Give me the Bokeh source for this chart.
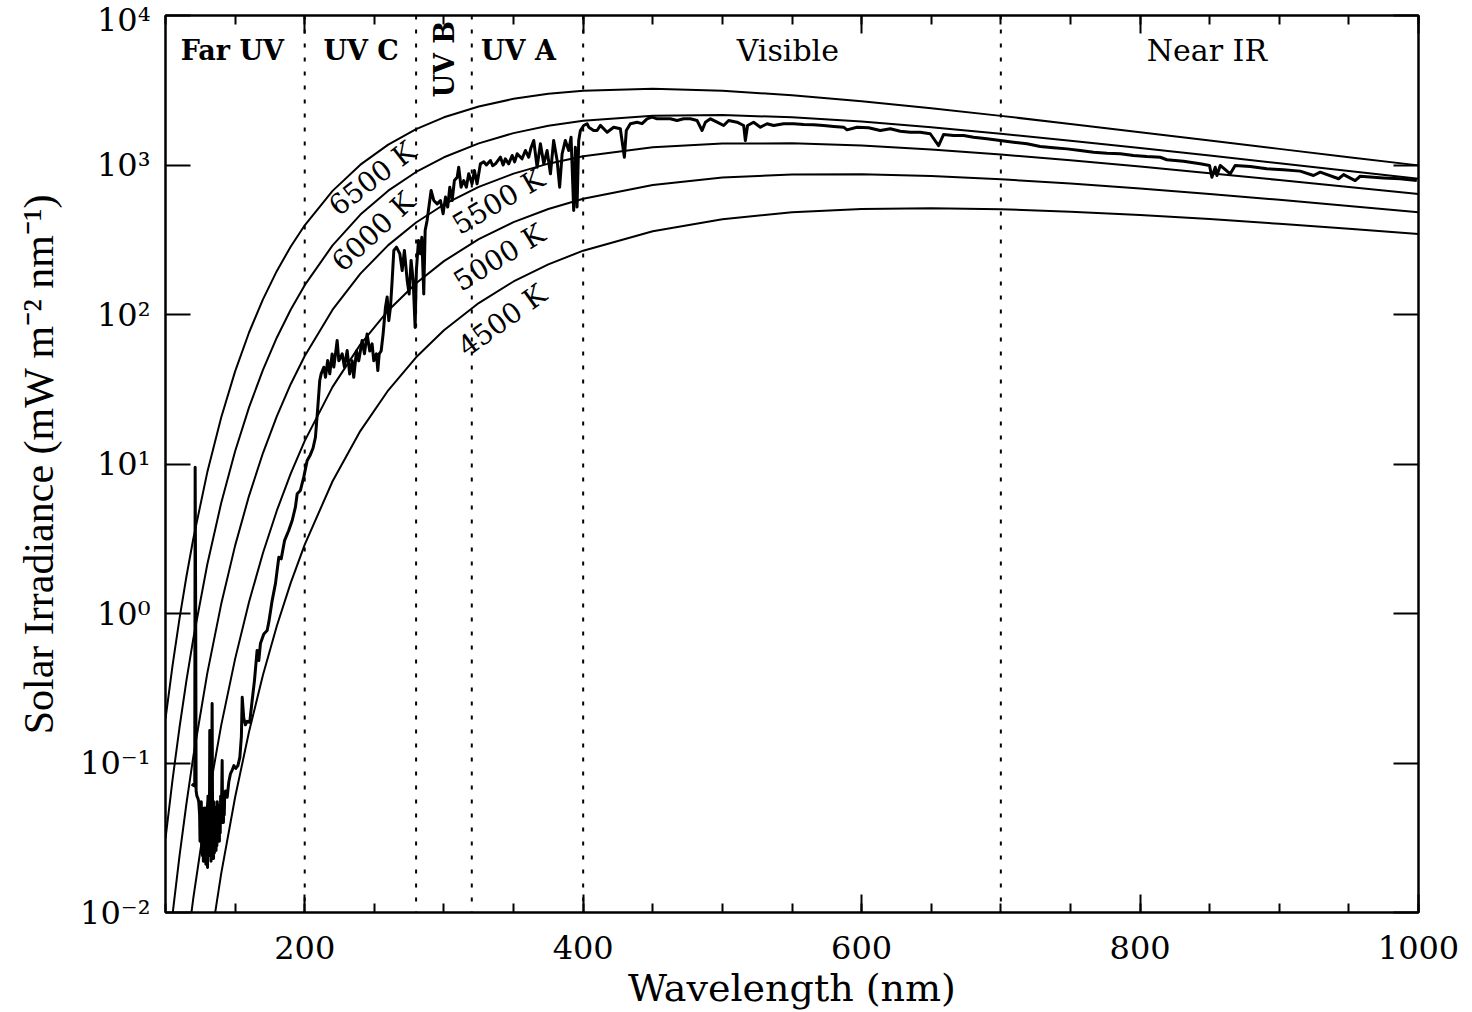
import math

from bokeh.core.properties import value
from bokeh.embed import file_html
from bokeh.models import (FixedTicker, LinearAxis, LogAxis, Range1d,
                          SingleIntervalTicker, Span)
from bokeh.plotting import figure
from bokeh.resources import INLINE

# ---------------------------------------------------------------------------
# Blackbody irradiance curves (mW m^-2 nm^-1), sampled on a common grid
# ---------------------------------------------------------------------------
bb_wavelength = [100, 105, 110, 115, 120, 130, 140, 150, 160, 170,
                 180, 190, 200, 220, 240, 260, 280, 300, 325, 350,
                 375, 400, 450, 500, 550, 600, 650, 700, 750, 800,
                 850, 900, 950, 1000]

bb_6500 = [0.1974, 0.444, 0.9171, 1.762, 3.175, 8.793, 20.48, 41.63, 75.8, 126.3,
           195.7, 285.3, 395.3, 671.2, 1005, 1369, 1736, 2084, 2465, 2770,
           2993, 3138, 3232, 3136, 2929, 2671, 2398, 2131, 1883, 1658,
           1458, 1282, 1128, 994.3]
bb_6000 = [0.03119, 0.07656, 0.1714, 0.354, 0.6823, 2.127, 5.483, 12.17, 23.92, 42.68,
           70.21, 108.0, 157.1, 290.1, 465.8, 673.3, 898.1, 1126, 1396, 1634,
           1828, 1975, 2139, 2159, 2084, 1951, 1789, 1620, 1455, 1299,
           1156, 1027, 911.6, 810.0]
bb_5500 = [0.003527, 0.009605, 0.02362, 0.05318, 0.1109, 0.3977, 1.156, 2.844, 6.126, 11.84,
           20.92, 34.30, 52.82, 107.7, 187.8, 291.1, 412.3, 544.4, 713.8, 876.0,
           1021, 1144, 1315, 1393, 1396, 1349, 1270, 1176, 1076, 976.8,
           881.7, 793.2, 712.2, 638.9]
bb_5000 = [2.578e-4, 7.953e-4, 2.19e-3, 5.467e-3, 0.01254, 0.05315, 0.1784, 0.4972, 1.194, 2.541,
           4.890, 8.656, 14.28, 32.79, 63.14, 106.4, 162.0, 227.6, 319.0, 414.7,
           508.2, 594.7, 734.5, 823.5, 864.6, 867.9, 844.6, 803.4, 752.1, 696.6,
           640.0, 584.7, 531.9, 483.1]
bb_4500 = [1.054e-5, 3.785e-5, 1.197e-4, 3.392e-4, 8.735e-4, 4.546e-3, 0.01818, 0.05902, 0.1619, 0.3875,
           0.8277, 1.608, 2.887, 7.668, 16.67, 31.12, 51.70, 78.41, 119.3, 166.3,
           216.5, 267.3, 360.8, 433.8, 482.4, 507.7, 514.0, 505.6, 487.5, 463.0,
           434.5, 404.6, 374.6, 345.1]

temperatures = [6500, 6000, 5500, 5000, 4500]
bb_curves = [bb_6500, bb_6000, bb_5500, bb_5000, bb_4500]

# ---------------------------------------------------------------------------
# Measured solar spectral irradiance (mW m^-2 nm^-1)
# ---------------------------------------------------------------------------
solar_wavelength = [
    119.0, 120.0, 121.0, 121.3, 121.7, 122.0, 122.6, 123.3, 123.9,
    124.5, 124.8, 125.1, 125.4, 125.7, 126.0, 126.3, 126.6, 126.9, 127.2,
    127.5, 127.8, 128.1, 128.4, 128.7, 129.0, 129.3, 129.6, 129.9, 130.2,
    130.5, 130.8, 131.1, 131.5, 131.8, 132.1, 132.4, 132.7, 133.0, 133.5,
    133.9, 134.2, 134.5, 134.8, 135.1, 135.4, 135.7, 136.0, 136.3, 136.6,
    136.9, 137.2, 137.5, 137.8, 138.1, 138.4, 138.7, 139.0, 139.3, 139.6,
    140.0, 140.4, 140.7, 141.0, 141.3, 141.6, 141.9, 142.2, 142.5,
    143.1, 144.3, 145.5, 146.7, 148.0, 149.1, 150.5, 152.0, 153.4, 154.5,
    155.1, 156.2, 157.4, 158.6, 160.5, 162.2, 163.9, 165.8, 167.0, 168.2,
    170.6, 173.0, 174.2, 176.6, 179.0, 181.4, 183.1, 185.5, 188.5, 191.0,
    193.3, 194.6, 196.9, 199.3, 201.7, 204.0, 206.0, 207.7, 209.4, 210.8,
    211.8, 213.7, 214.9, 216.5, 218.0, 219.7, 220.9, 223.3, 224.5, 226.9,
    228.5, 230.5, 232.3, 234.1, 235.2, 237.2, 238.8, 241.2, 242.9, 244.8,
    246.7, 248.4, 249.6, 251.5, 252.5, 253.5, 254.9, 256.3, 258.0, 259.2,
    260.4, 261.6, 262.8, 264.0, 265.9, 268.3, 270.0, 271.6, 273.6, 275.0,
    276.4, 277.9, 279.3, 280.2, 281.7, 283.1, 284.1, 285.5, 286.5, 287.9,
    289.8, 290.8, 292.7, 295.1, 297.5, 299.4, 301.1, 302.7, 304.2, 305.9,
    307.5, 309.5, 310.6, 312.3, 314.2, 316.1, 317.8, 320.2, 321.9, 323.8,
    326.2, 328.6, 330.5, 333.4, 335.0, 337.0, 340.6, 342.5, 344.1, 346.5,
    349.0, 350.8, 352.6, 356.1, 358.5, 360.9, 362.5, 364.5, 366.9, 369.3,
    371.7, 374.1, 376.5, 378.8, 381.3, 383.1, 384.9, 387.2, 389.6, 391.3,
    393.2, 394.4, 395.6, 396.8, 398.0, 400.4, 402.8, 404.0, 407.5, 410.0,
    412.4, 417.2, 421.9, 426.7, 429.6, 431.0, 433.9, 438.7, 442.3, 445.9,
    449.5, 453.1, 457.8, 462.6, 467.4, 472.2, 477.0, 481.8, 485.4, 487.8,
    491.4, 496.2, 500.9, 504.5, 510.5, 515.3, 516.5, 518.1, 522.4, 527.3,
    532.1, 536.8, 544.0, 551.2, 558.4, 565.5, 572.7, 579.9, 587.1, 589.5,
    596.7, 605.0, 613.4, 620.6, 627.8, 635.0, 642.1, 649.3, 655.3, 658.9,
    666.1, 673.2, 680.4, 690.0, 699.6, 709.1, 718.8, 728.3, 737.9, 747.5,
    757.0, 766.6, 776.2, 785.8, 795.3, 804.9, 814.5, 819.3, 831.2, 843.2,
    849.9, 851.6, 854.0, 855.2, 857.6, 864.8, 868.3, 879.1, 891.1, 903.0,
    915.0, 924.6, 929.4, 942.6, 946.2, 954.5, 958.1, 974.8, 986.8, 998.8,
]
solar_irradiance = [
    0.070, 0.072, 0.070, 9.5, 0.9, 0.065, 0.060, 0.058, 0.055,
    0.045, 0.030, 0.052, 0.035, 0.055, 0.028, 0.050, 0.024, 0.048, 0.022,
    0.045, 0.026, 0.050, 0.023, 0.046, 0.021, 0.050, 0.022, 0.044, 0.020,
    0.060, 0.024, 0.048, 0.030, 0.165, 0.024, 0.050, 0.022, 0.060, 0.25,
    0.026, 0.050, 0.023, 0.055, 0.025, 0.046, 0.027, 0.050, 0.026, 0.045,
    0.028, 0.055, 0.030, 0.050, 0.032, 0.052, 0.030, 0.050, 0.034, 0.060,
    0.040, 0.065, 0.104, 0.045, 0.056, 0.040, 0.056, 0.045, 0.060,
    0.065, 0.059, 0.075, 0.085, 0.090, 0.096, 0.092, 0.096, 0.109, 0.15,
    0.275, 0.200, 0.180, 0.190, 0.187, 0.26, 0.356, 0.566, 0.485, 0.63,
    0.73, 0.77, 0.875, 1.22, 1.59, 2.38, 2.32, 3.07, 3.59, 4.19,
    5.14, 6.32, 6.65, 8.17, 10.5, 11.5, 12.8, 15.1, 24.0, 36.2,
    40.1, 44.4, 38.0, 49.2, 40.1, 54.5, 44.5, 67.0, 49.0, 54.6,
    44.5, 57.4, 40.0, 49.0, 38.0, 57.0, 49.0, 67.0, 54.6, 74.0,
    57.0, 63.6, 49.0, 54.6, 42.2, 54.6, 57.0, 74.0, 112, 131,
    91, 112, 169, 268, 282, 255, 197, 268, 169, 137,
    230, 169, 82, 197, 313, 255, 329, 137, 365, 425,
    579, 675, 579, 550, 579, 472, 610, 523, 711, 579,
    787, 828, 967, 711, 787, 711, 873, 748, 918, 748,
    1018, 1050, 1000, 1072, 990, 1018, 1128, 1000, 1100, 1018,
    1158, 1050, 1189, 1100, 1250, 1127, 1300, 1459, 967, 1387,
    1018, 1250, 873, 1459, 1072, 711, 1189, 1459, 1250, 1535,
    497, 1315, 523, 1460, 1702, 1837, 1888, 1790, 1702, 1700,
    1840, 1656, 1790, 1746, 1128, 1702, 1890, 1933, 1890, 2037,
    2089, 2037, 2037, 2037, 1985, 2037, 2037, 1985, 1702, 1933,
    2037, 1933, 1837, 1985, 1933, 1837, 1459, 1837, 1933, 1790,
    1888, 1837, 1888, 1888, 1866, 1858, 1837, 1811, 1790, 1718,
    1790, 1774, 1702, 1746, 1683, 1656, 1656, 1618, 1349, 1600,
    1574, 1574, 1535, 1496, 1459, 1422, 1387, 1330, 1303, 1282,
    1250, 1219, 1200, 1189, 1159, 1140, 1127, 1084, 1059, 1018,
    993, 828, 966, 851, 993, 873, 993, 977, 944, 929,
    910, 851, 895, 809, 863, 787, 841, 820, 809, 787,
]
assert len(solar_wavelength) == len(solar_irradiance)

# Spectral band boundaries (nm) and band names
band_edges = [200, 280, 320, 400, 700]
uv_band_names = ["Far UV", "UV C", "UV B", "UV A"]
wide_band_names = ["Visible", "Near IR"]

# Axis ticks
y_ticks = [1e-2, 1e-1, 1e0, 1e1, 1e2, 1e3, 1e4]
y_tick_labels = ["10\u207b\u00b2", "10\u207b\u00b9", "10\u2070", "10\u00b9",
                 "10\u00b2", "10\u00b3", "10\u2074"]

# ---------------------------------------------------------------------------
# Figure
# ---------------------------------------------------------------------------
SERIF = "DejaVu Serif"

p = figure(width=1472, height=1012,
           x_range=Range1d(100, 1000), y_range=Range1d(1e-2, 1e4),
           y_axis_type="log", output_backend="svg", toolbar_location=None,
           min_border_left=165, min_border_right=54,
           min_border_top=15, min_border_bottom=100)
p.grid.visible = False
p.background_fill_color = "white"
p.border_fill_color = "white"
p.outline_line_color = "black"
p.outline_line_width = 2

x_ticker = SingleIntervalTicker(interval=200, num_minor_ticks=4)
y_ticker = FixedTicker(ticks=y_ticks, minor_ticks=[])


def style_common(ax, labels):
    ax.axis_line_color = "black"
    ax.axis_line_width = 2
    ax.major_tick_line_color = "black"
    ax.major_tick_line_width = 2
    ax.major_tick_out = 0
    if labels:
        ax.major_label_text_font = SERIF
        ax.major_label_text_font_size = "32px"
        ax.major_label_text_color = "black"
    else:
        # mirrored tick marks only, no labels drawn
        ax.major_label_text_font_size = "1px"
        ax.major_label_text_color = None
        ax.major_label_standoff = 0


def style_x(ax, labels=True):
    ax.ticker = x_ticker
    style_common(ax, labels)
    ax.minor_tick_line_color = "black"
    ax.minor_tick_line_width = 2
    ax.major_tick_in = 18
    ax.minor_tick_in = 9
    ax.minor_tick_out = 0
    if labels:
        ax.major_label_standoff = 23


def style_y(ax, labels=True):
    ax.ticker = y_ticker
    style_common(ax, labels)
    ax.minor_tick_line_color = None
    ax.major_tick_in = 25
    if labels:
        ax.major_label_overrides = dict(zip(y_ticks, y_tick_labels))
        ax.major_label_standoff = 15


style_x(p.xaxis[0])
style_y(p.yaxis[0])

p.xaxis.axis_label = "Wavelength (nm)"
p.xaxis.axis_label_text_font = SERIF
p.xaxis.axis_label_text_font_size = "38px"
p.xaxis.axis_label_text_font_style = "normal"
p.xaxis.axis_label_text_color = "black"
p.xaxis.axis_label_standoff = 4

p.yaxis.axis_label = "Solar Irradiance (mW m\u207b\u00b2 nm\u207b\u00b9)"
p.yaxis.axis_label_text_font = "Liberation Serif"
p.yaxis.axis_label_text_font_size = "42px"
p.yaxis.axis_label_text_font_style = "normal"
p.yaxis.axis_label_text_color = "black"
p.yaxis.axis_label_standoff = 15

top_axis = LinearAxis()
style_x(top_axis, labels=False)
p.add_layout(top_axis, "above")

right_axis = LogAxis()
style_y(right_axis, labels=False)
p.add_layout(right_axis, "right")

# Band boundaries
for edge in band_edges:
    p.add_layout(Span(location=edge, dimension="height", line_color="black",
                      line_width=2, line_dash="4 10"))

# Blackbody curves
for curve in bb_curves:
    p.line(bb_wavelength, curve, line_color="black", line_width=2)

# Solar spectrum
p.line(solar_wavelength, solar_irradiance, line_color="black", line_width=3,
       line_join="round")

# Band names across the top of the plot
p.text(x=[148, 240.5, 300.5, 353.5], y=[5800, 5800, 5100, 5800],
       text=uv_band_names, angle=[0, 0, math.pi / 2, 0],
       text_font=value(SERIF), text_font_size=value("27px"),
       text_font_style="bold",
       text_align="center", text_baseline="middle", text_color="black")
p.text(x=[547, 848], y=[5800, 5800], text=wide_band_names,
       text_font=value(SERIF), text_font_size=value("30px"),
       text_align="center", text_baseline="middle", text_color="black")

# Temperature labels along the curves
temp_labels = [f"{t} K" for t in temperatures]
temp_label_x = [248.6, 249.3, 339.1, 339.8, 341.9]
temp_label_y = [813, 359, 570, 241, 91.2]
temp_label_angle = [math.radians(a) for a in (38, 43, 30.5, 31.5, 36)]
p.text(x=temp_label_x, y=temp_label_y, text=temp_labels, angle=temp_label_angle,
       text_font=value(SERIF), text_font_size=value("28px"),
       text_align="center", text_baseline="middle", text_color="black")

open("out.html", "w").write(file_html(p, INLINE))
